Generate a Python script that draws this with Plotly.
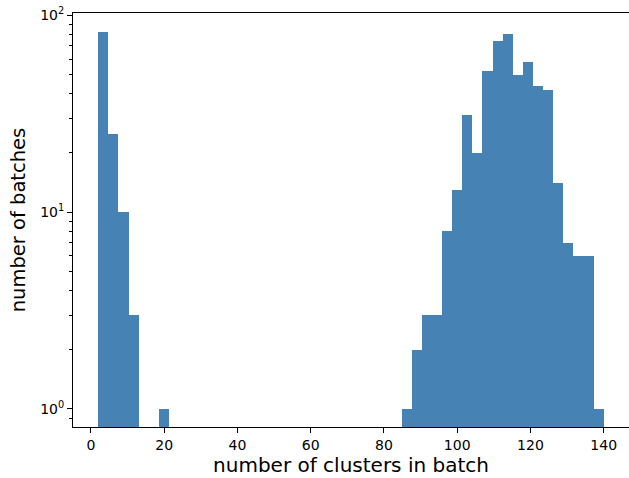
import plotly.graph_objects as go

# Histogram data (50 equal bins from 2 to 140)
bin_start = 2.0
bin_end = 140.0
n_bins = 50
counts = [82, 25, 10, 3, 0, 0, 1, 0, 0, 0,
          0, 0, 0, 0, 0, 0, 0, 0, 0, 0,
          0, 0, 0, 0, 0, 0, 0, 0, 0, 0,
          1, 2, 3, 3, 8, 13, 31, 20, 52, 74,
          80, 50, 58, 44, 42, 14, 7, 6, 6, 1]

x_ticks = [0, 20, 40, 60, 80, 100, 120, 140]
y_ticks = [1, 10, 100]
y_ticktext = ["10<sup>0</sup>", "10<sup>1</sup>", "10<sup>2</sup>"]
y_minor = [0.9, 2, 3, 4, 5, 6, 7, 8, 9, 20, 30, 40, 50, 60, 70, 80, 90]

width = (bin_end - bin_start) / n_bins
centers = [bin_start + width * (i + 0.5) for i in range(n_bins)]
xs = [c for c, v in zip(centers, counts) if v > 0]
ys = [v for v in counts if v > 0]

fig = go.Figure(go.Bar(x=xs, y=ys, width=width, marker=dict(color="#4682b4", line=dict(width=0))))

font = "DejaVu Sans"
fig.update_layout(
    width=629, height=478,
    margin=dict(l=73, r=0, t=13, b=51),
    paper_bgcolor="white", plot_bgcolor="white",
    bargap=0, showlegend=False,
    font=dict(family=font, color="black", size=14),
)
fig.update_xaxes(
    range=[-4.9, 146.9], tickvals=x_ticks, ticks="outside", ticklen=5, tickwidth=1,
    tickcolor="black", showline=True, linecolor="black", linewidth=1, mirror=True,
    showgrid=False, zeroline=False, automargin=False,
    title=dict(text="number of clusters in batch", font=dict(size=20, family=font), standoff=6),
)
fig.update_yaxes(
    type="log", range=[-0.0915, 2.012], tickvals=y_ticks, ticktext=y_ticktext,
    ticks="outside", ticklen=5, tickwidth=1, tickcolor="black",
    showline=True, linecolor="black", linewidth=1, mirror=True,
    showgrid=False, zeroline=False, automargin=False,
    minor=dict(tickvals=y_minor, ticks="outside", ticklen=3, tickcolor="black", tickwidth=0.8, showgrid=False),
    title=dict(text="number of batches", font=dict(size=19.5, family=font), standoff=9),
)
fig.write_html("out.html", config={"displayModeBar": False},
               post_script="document.body.style.margin='0';document.body.style.overflow='hidden';")
